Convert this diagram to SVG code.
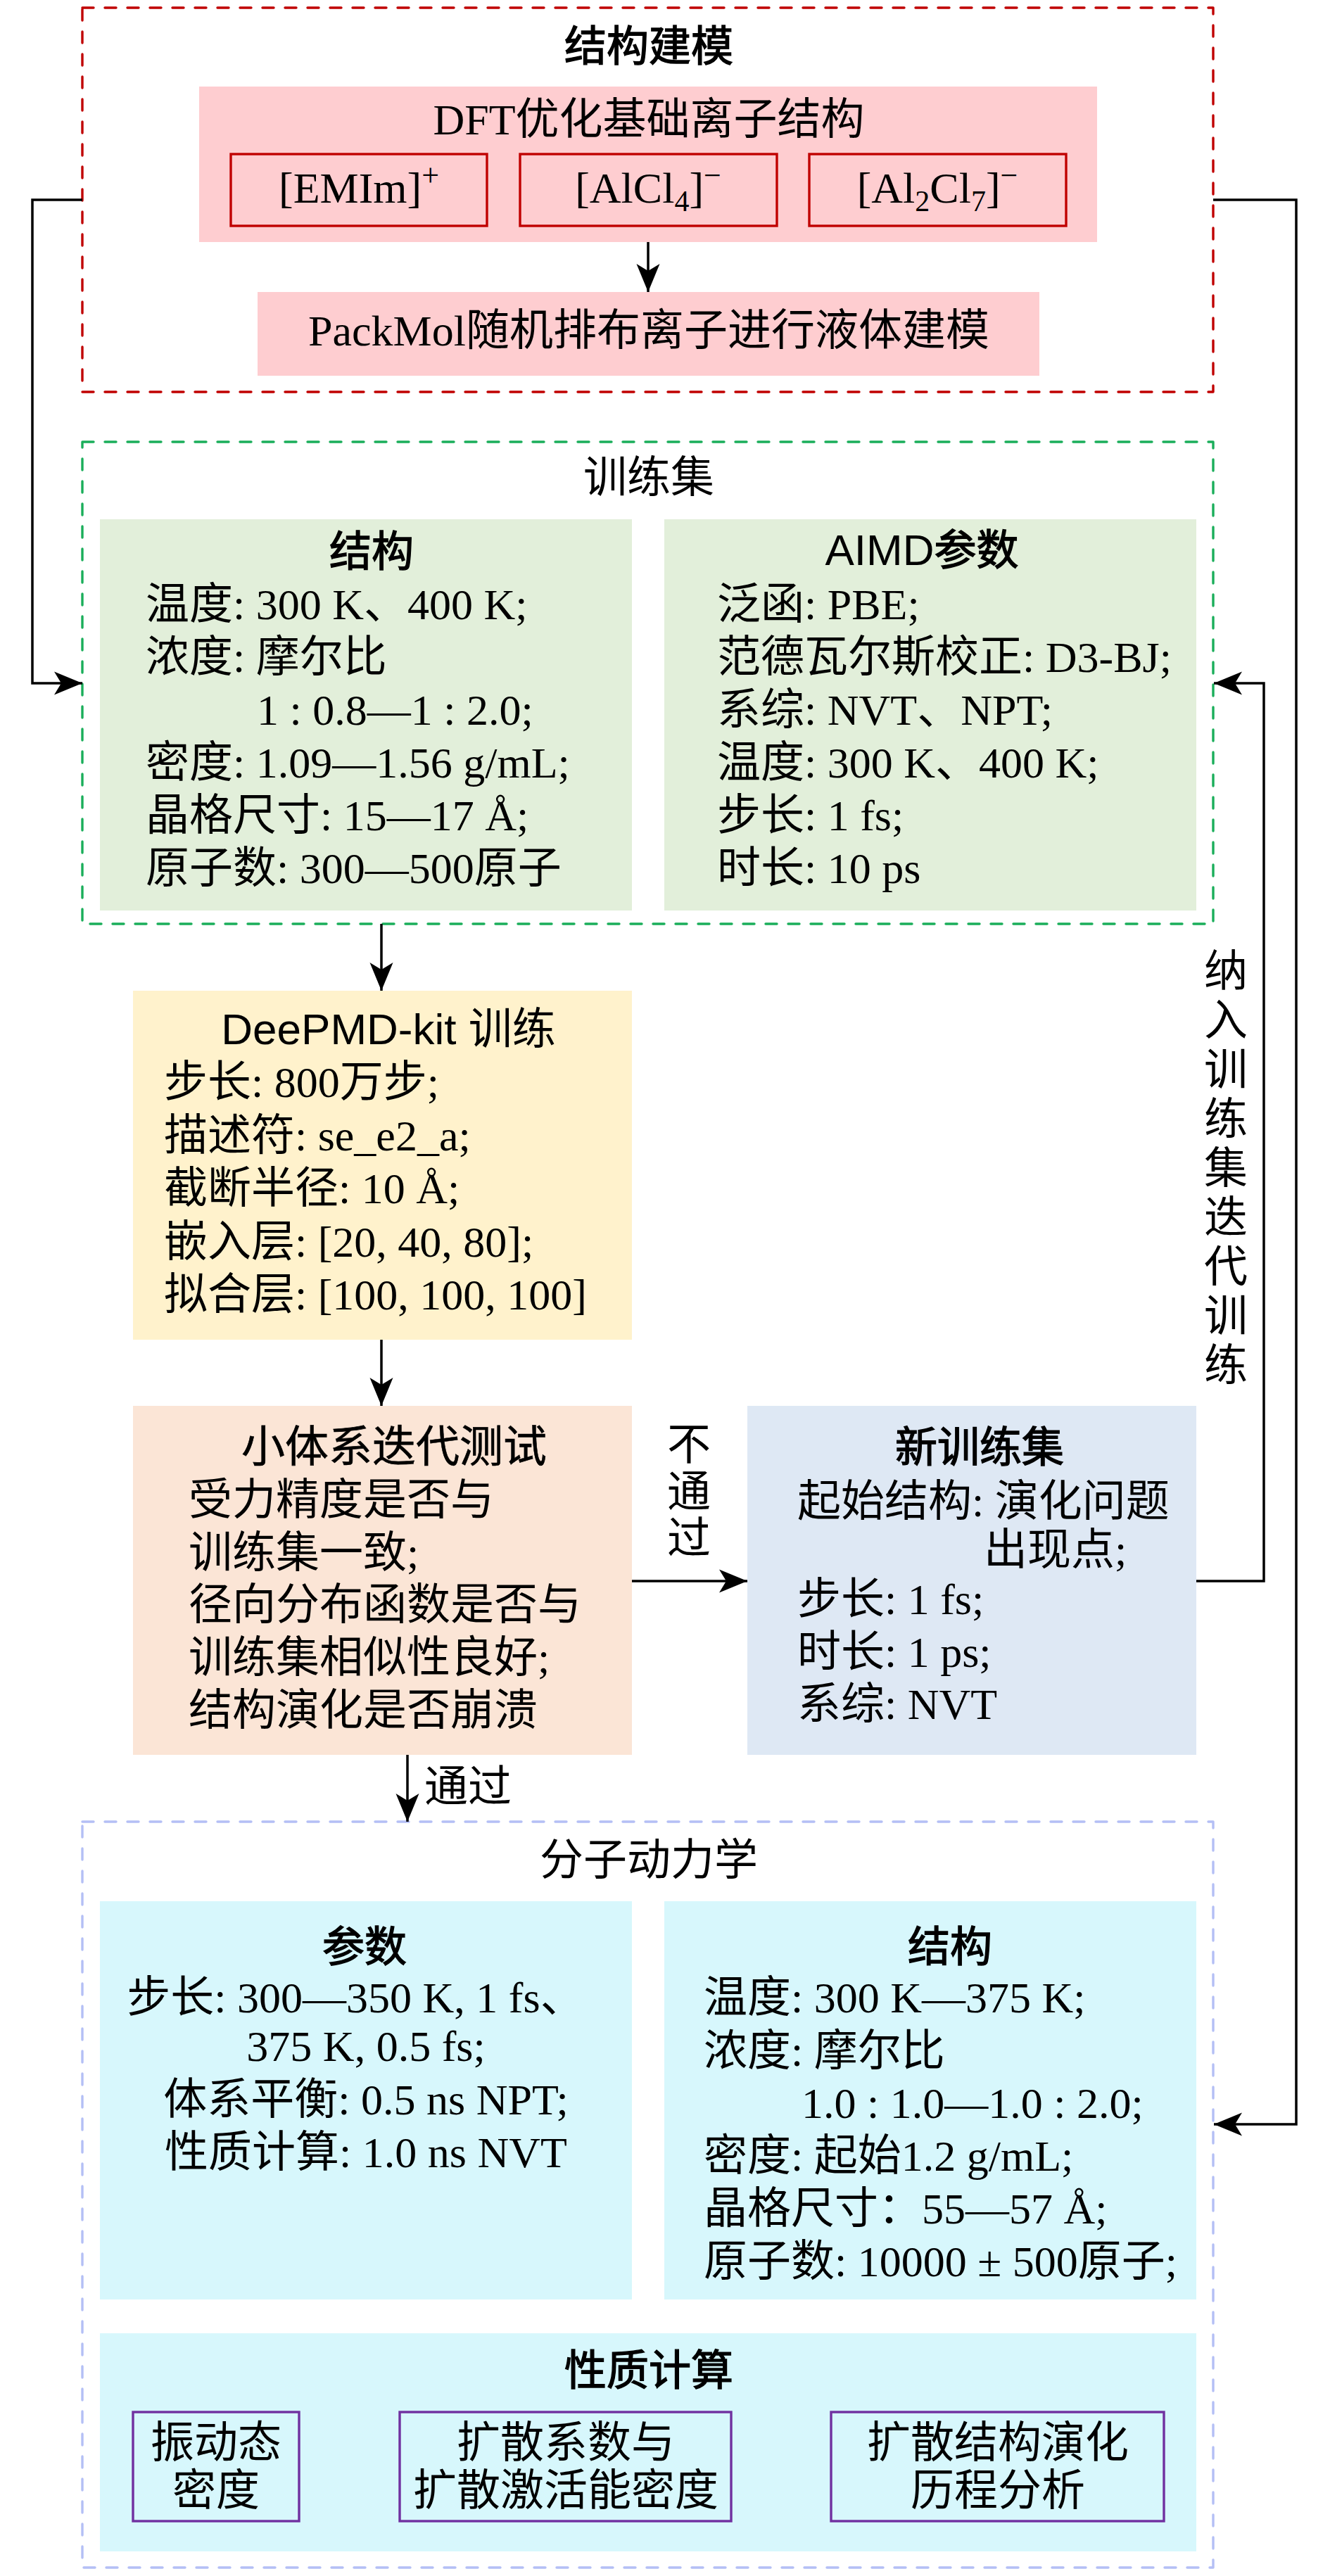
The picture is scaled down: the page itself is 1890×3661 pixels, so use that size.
<svg xmlns="http://www.w3.org/2000/svg" width="1890" height="3661" viewBox="0 0 1890 3661">
<defs>
<style>
.t{font-family:'Liberation Serif','Noto Sans CJK SC',serif;font-size:62px;fill:#000}
.s{font-family:'Liberation Sans','Noto Sans CJK SC',sans-serif}
.h{font-size:60px;stroke:#000;stroke-width:1.4px}
.m{text-anchor:middle}
.cn{stroke:#000;stroke-width:3.5;fill:none}
.ar{marker-end:url(#ah)}
.dash{fill:none;stroke-width:3.4;stroke-dasharray:16 16;stroke-linecap:round;stroke-linejoin:round}
.ion{fill:none;stroke:#c00000;stroke-width:3.4}
.pp{fill:none;stroke:#7030a0;stroke-width:3.4}
</style>
<marker id="ah" viewBox="-42 -20 44 40" refX="0" refY="0" markerWidth="44" markerHeight="40" markerUnits="userSpaceOnUse" orient="auto">
<path d="M0,0 L-40,-16.5 L-30,0 L-40,16.5 Z" fill="#000"/>
</marker>
</defs>
<rect width="1890" height="3661" fill="#fff"/>

<g id="structure-modeling">
<rect class="dash" x="117" y="11" width="1607" height="546" stroke="#c00000"/>
<text class="t h m" x="922" y="87">结构建模</text>
</g>
<g id="dft">
<rect x="283" y="123" width="1276" height="221" fill="#fecdd0"/>
<text class="t m" x="922" y="191">DFT优化基础离子结构</text>
</g>
<g id="ion-emim">
<rect class="ion" x="328" y="219" width="364" height="102"/>
<text class="t m" x="510" y="288">[EMIm]<tspan dy="-24" font-size="44">+</tspan></text>
</g>
<g id="ion-alcl4">
<rect class="ion" x="739" y="219" width="365" height="102"/>
<text class="t m" x="921" y="288">[AlCl<tspan dy="12" font-size="42">4</tspan><tspan dy="-12">]</tspan><tspan dy="-24" font-size="44">−</tspan></text>
</g>
<g id="ion-al2cl7">
<rect class="ion" x="1150" y="219" width="365" height="102"/>
<text class="t m" x="1332" y="288">[Al<tspan dy="12" font-size="42">2</tspan><tspan dy="-12">Cl</tspan><tspan dy="12" font-size="42">7</tspan><tspan dy="-12">]</tspan><tspan dy="-24" font-size="44">−</tspan></text>
</g>
<g id="packmol">
<rect x="366" y="415" width="1111" height="119" fill="#fecdd0"/>
<text class="t m" x="922" y="491">PackMol随机排布离子进行液体建模</text>
</g>

<g id="training-set">
<rect class="dash" x="117" y="628" width="1607" height="685" stroke="#1aae5a"/>
<text class="t m" x="922" y="700">训练集</text>
</g>
<g id="training-structure">
<rect x="142" y="738" width="756" height="556" fill="#e2efda"/>
<text class="t h m" x="528" y="805">结构</text>
<text class="t" x="207" y="880">温度: 300 K、400 K;</text>
<text class="t" x="207" y="955">浓度: 摩尔比</text>
<text class="t" x="365" y="1030">1 : 0.8—1 : 2.0;</text>
<text class="t" x="207" y="1105">密度: 1.09—1.56 g/mL;</text>
<text class="t" x="207" y="1180">晶格尺寸: 15—17 Å;</text>
<text class="t" x="207" y="1255">原子数: 300—500原子</text>
</g>
<g id="aimd-params">
<rect x="944" y="738" width="756" height="556" fill="#e2efda"/>
<text class="t s m" x="1310" y="803" font-size="60">AIMD<tspan class="h">参数</tspan></text>
<text class="t" x="1019" y="880">泛函: PBE;</text>
<text class="t" x="1019" y="955">范德瓦尔斯校正: D3-BJ;</text>
<text class="t" x="1019" y="1030">系综: NVT、NPT;</text>
<text class="t" x="1019" y="1105">温度: 300 K、400 K;</text>
<text class="t" x="1019" y="1180">步长: 1 fs;</text>
<text class="t" x="1019" y="1255">时长: 10 ps</text>
</g>

<g id="deepmd">
<rect x="189" y="1408" width="709" height="496" fill="#fff2cc"/>
<text class="t s m" x="552" y="1484" font-size="60">DeePMD-kit 训练</text>
<text class="t" x="233" y="1559">步长: 800万步;</text>
<text class="t" x="233" y="1635">描述符: se_e2_a;</text>
<text class="t" x="233" y="1710">截断半径: 10  Å;</text>
<text class="t" x="233" y="1786">嵌入层: [20, 40, 80];</text>
<text class="t" x="233" y="1861">拟合层: [100, 100, 100]</text>
</g>

<g id="small-system-test">
<rect x="189" y="1998" width="709" height="496" fill="#fbe5d6"/>
<text class="t m" x="560" y="2078" font-size="60" stroke="#000" stroke-width="0.6">小体系迭代测试</text>
<text class="t" x="268" y="2153">受力精度是否与</text>
<text class="t" x="268" y="2228">训练集一致;</text>
<text class="t" x="268" y="2302">径向分布函数是否与</text>
<text class="t" x="268" y="2377">训练集相似性良好;</text>
<text class="t" x="268" y="2452">结构演化是否崩溃</text>
</g>

<g id="new-training-set">
<rect x="1062" y="1998" width="638" height="496" fill="#dee8f4"/>
<text class="t h m" x="1392" y="2078">新训练集</text>
<text class="t" x="1133" y="2155">起始结构: 演化问题</text>
<text class="t" x="1398" y="2224">出现点;</text>
<text class="t" x="1133" y="2294">步长: 1 fs;</text>
<text class="t" x="1133" y="2369">时长: 1 ps;</text>
<text class="t" x="1133" y="2443">系综: NVT</text>
</g>

<g id="molecular-dynamics">
<rect class="dash" x="117" y="2589" width="1607" height="1060" stroke="#b4bff5"/>
<text class="t m" x="922" y="2665">分子动力学</text>
</g>
<g id="md-params">
<rect x="142" y="2702" width="756" height="566" fill="#d7f7fc"/>
<text class="t h m" x="518" y="2788">参数</text>
<text class="t m" x="505" y="2860">步长: 300—350 K, 1 fs、</text>
<text class="t m" x="520" y="2929">375 K, 0.5 fs;</text>
<text class="t m" x="520" y="3005">体系平衡: 0.5 ns NPT;</text>
<text class="t m" x="520" y="3080">性质计算: 1.0 ns NVT</text>
</g>
<g id="md-structure">
<rect x="944" y="2702" width="756" height="566" fill="#d7f7fc"/>
<text class="t h m" x="1350" y="2788">结构</text>
<text class="t" x="1000" y="2860">温度: 300 K—375 K;</text>
<text class="t" x="1000" y="2936">浓度: 摩尔比</text>
<text class="t" x="1139" y="3010">1.0 : 1.0—1.0 : 2.0;</text>
<text class="t" x="1000" y="3085">密度: 起始1.2 g/mL;</text>
<text class="t" x="1000" y="3160">晶格尺寸：55—57 Å;</text>
<text class="t" x="1000" y="3235">原子数: 10000 ± 500原子;</text>
</g>
<g id="property-calc">
<rect x="142" y="3316" width="1558" height="310" fill="#d7f7fc"/>
<text class="t h m" x="922" y="3390">性质计算</text>
</g>
<g id="vdos">
<rect class="pp" x="189" y="3428" width="236" height="155"/>
<text class="t m" x="307" y="3493">振动态</text>
<text class="t m" x="307" y="3561">密度</text>
</g>
<g id="diffusion">
<rect class="pp" x="568" y="3428" width="471" height="155"/>
<text class="t m" x="804" y="3493">扩散系数与</text>
<text class="t m" x="804" y="3561">扩散激活能密度</text>
</g>
<g id="diffusion-evolution">
<rect class="pp" x="1181" y="3428" width="473" height="155"/>
<text class="t m" x="1418" y="3493">扩散结构演化</text>
<text class="t m" x="1418" y="3561">历程分析</text>
</g>

<g id="connectors">
<path class="cn ar" d="M921,344 V415"/>
<path class="cn ar" d="M117,284 H46 V971 H117"/>
<path class="cn ar" d="M1724,284 H1842 V3019 H1725"/>
<path class="cn ar" d="M542,1313 V1408"/>
<path class="cn ar" d="M542,1904 V1998"/>
<path class="cn ar" d="M898,2247 H1062"/>
<path class="cn ar" d="M1700,2247 H1796 V971 H1725"/>
<path class="cn ar" d="M579,2494 V2589"/>
<g class="t m">
<text x="979" y="2075">不</text>
<text x="979" y="2142">通</text>
<text x="979" y="2208">过</text>
<text x="1742" y="1402">纳</text>
<text x="1742" y="1472">入</text>
<text x="1742" y="1542">训</text>
<text x="1742" y="1612">练</text>
<text x="1742" y="1682">集</text>
<text x="1742" y="1752">迭</text>
<text x="1742" y="1822">代</text>
<text x="1742" y="1892">训</text>
<text x="1742" y="1962">练</text>
</g>
<text class="t" x="603" y="2561">通过</text>
</g>
</svg>
